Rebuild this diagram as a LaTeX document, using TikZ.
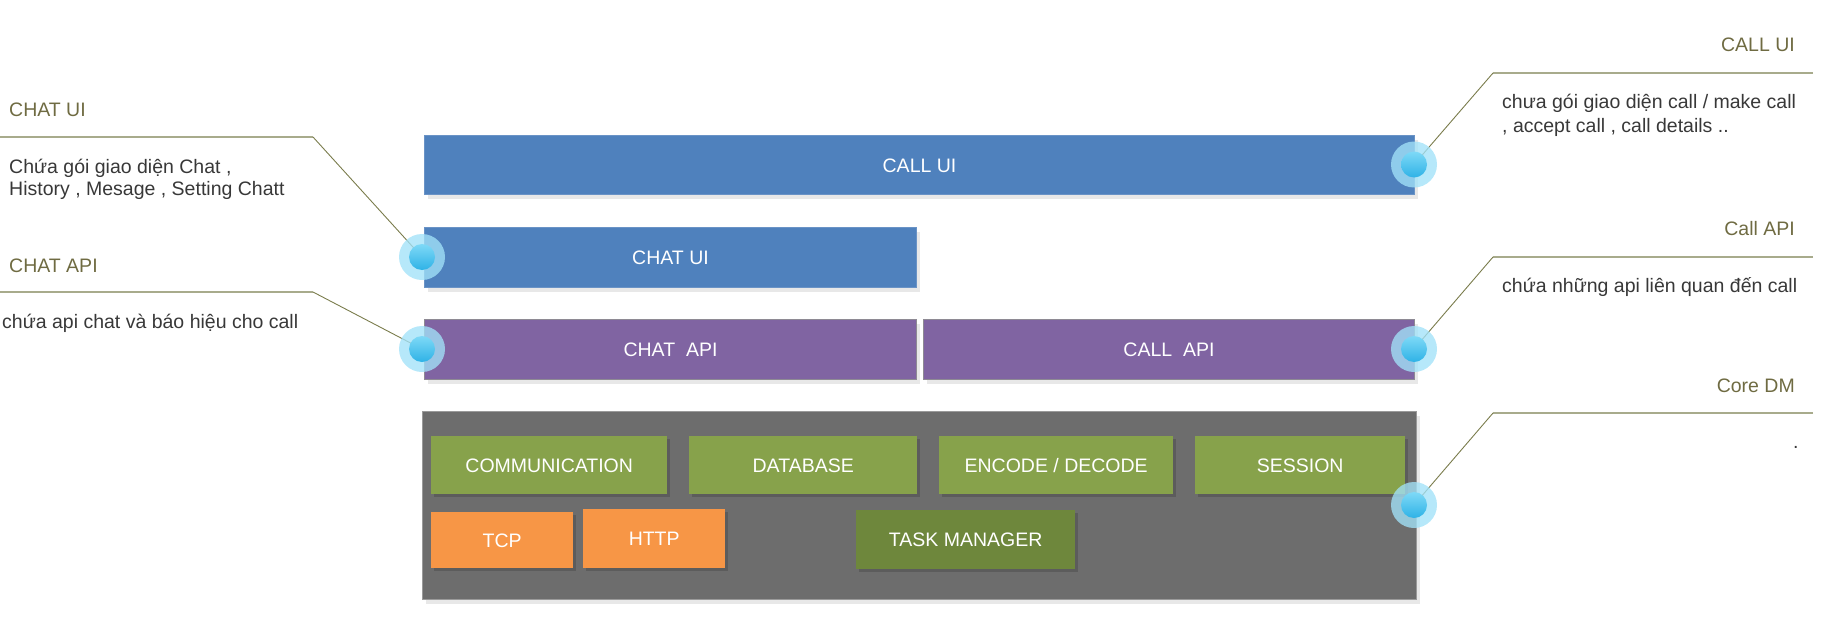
\documentclass[tikz,border=0pt]{standalone}
\usepackage{fontspec}
\setmainfont{Liberation Sans}
\usetikzlibrary{shadows}
\definecolor{barblue}{HTML}{4F81BD}
\definecolor{barblueedge}{HTML}{6A93C6}
\definecolor{barpurple}{HTML}{8064A2}
\definecolor{barpurpleedge}{HTML}{8E8A94}
\definecolor{coregray}{HTML}{6D6D6D}
\definecolor{coreedge}{HTML}{9A9A9A}
\definecolor{modgreen}{HTML}{87A24B}
\definecolor{modgreendark}{HTML}{6E873C}
\definecolor{modorange}{HTML}{F79646}
\definecolor{modshadow}{HTML}{5C5C5C}
\definecolor{titlecol}{HTML}{6F6B42}
\definecolor{bodycol}{HTML}{383838}
\definecolor{hlinecol}{HTML}{A8AB8C}
\definecolor{dlinecol}{HTML}{7A7C4C}
\definecolor{ringcol}{HTML}{A2E2F8}
\definecolor{dottop}{HTML}{7ED9F7}
\definecolor{dotbot}{HTML}{2FB2E6}
\newcommand{\labfont}{\fontsize{19.5}{23}\selectfont}
\begin{document}
\begin{tikzpicture}[x=1pt,y=-1pt,
  bar/.style={rectangle, inner sep=0pt, anchor=north west, text=white, font=\labfont,
    text height=14pt, text depth=0pt,
    drop shadow={shadow xshift=3pt, shadow yshift=-4pt, fill=black!9, opacity=1}},
  bluebar/.style={bar, fill=barblue, draw=barblueedge, line width=1pt},
  purplebar/.style={bar, fill=barpurple, draw=barpurpleedge, line width=1pt},
  corebox/.style={rectangle, inner sep=0pt, anchor=north west, fill=coregray, draw=coreedge, line width=1pt,
    drop shadow={shadow xshift=3pt, shadow yshift=-4pt, fill=black!9, opacity=1}},
  module/.style={rectangle, inner sep=0pt, anchor=north west, text=white, font=\labfont,
    text height=14pt, text depth=0pt, draw=none,
    drop shadow={shadow xshift=3pt, shadow yshift=-3pt, fill=modshadow, opacity=1}},
  greenmod/.style={module, fill=modgreen},
  darkmod/.style={module, fill=modgreendark},
  orangemod/.style={module, fill=modorange},
  title/.style={font=\labfont, text=titlecol, inner sep=0pt},
  body/.style={font=\labfont, text=bodycol, inner sep=0pt, anchor=base west},
  hline/.style={draw=hlinecol, line width=2pt},
  dline/.style={draw=dlinecol, line width=0.9pt},
  ring/.style={circle, inner sep=0pt, minimum size=46pt, fill=ringcol, fill opacity=0.78, draw=none},
]
\useasboundingbox (0,0) rectangle (1822,626);

% ---- layer bars
\node[bluebar, minimum width=990pt, minimum height=59pt] (callui) at (424,135) {CALL UI};
\node[bluebar, minimum width=492pt, minimum height=60pt] (chatui) at (424,227) {CHAT UI};
\node[purplebar, minimum width=492pt, minimum height=60pt] (chatapi) at (424,319) {CHAT\ \ API};
\node[purplebar, minimum width=491pt, minimum height=60pt] (callapi) at (923,319) {CALL\ \ API};

% ---- core
\node[corebox, minimum width=994pt, minimum height=188pt] (core) at (422,411) {};
\node[greenmod, minimum width=236pt, minimum height=58pt] (comm) at (431,436) {COMMUNICATION};
\node[greenmod, minimum width=228pt, minimum height=58pt] (db) at (689,436) {DATABASE};
\node[greenmod, minimum width=234pt, minimum height=58pt] (enc) at (939,436) {ENCODE / DECODE};
\node[greenmod, minimum width=210pt, minimum height=58pt] (sess) at (1195,436) {SESSION};
\node[orangemod, minimum width=142pt, minimum height=56pt] (tcp) at (431,512) {TCP};
\node[orangemod, minimum width=142pt, minimum height=59pt] (http) at (583,509) {HTTP};
\node[darkmod, minimum width=219pt, minimum height=59pt] (task) at (856,510) {TASK MANAGER};

% ---- callout anchors
\coordinate (pchatui) at (422,257);
\coordinate (pchatapi) at (422,349);
\coordinate (pcallui) at (1414,164.5);
\coordinate (pcallapi) at (1414,349);
\coordinate (pcore) at (1414,505);

\coordinate (s1) at (0,137);    \coordinate (e1) at (313,137);
\coordinate (s2) at (0,292);    \coordinate (e2) at (313,292);
\coordinate (s3) at (1813,73);  \coordinate (e3) at (1493,73);
\coordinate (s4) at (1813,257); \coordinate (e4) at (1493,257);
\coordinate (s5) at (1813,413); \coordinate (e5) at (1493,413);

\draw[hline] (s1) -- (e1); \draw[dline] (e1) -- (pchatui);
\draw[hline] (s2) -- (e2); \draw[dline] (e2) -- (pchatapi);
\draw[hline] (s3) -- (e3); \draw[dline] (e3) -- (pcallui);
\draw[hline] (s4) -- (e4); \draw[dline] (e4) -- (pcallapi);
\draw[hline] (s5) -- (e5); \draw[dline] (e5) -- (pcore);

% ---- callout dots
\foreach \p in {pchatui,pchatapi,pcallui,pcallapi,pcore}{
  \node[ring] (r-\p) at (\p) {};
  \shade[top color=dottop, bottom color=dotbot] (\p) circle[radius=13pt];
}

% ---- left texts
\node[title, anchor=base west] (tchatui) at (9,116) {CHAT UI};
\node[body] (bchatui1) at (9,173) {Chứa gói giao diện Chat ,};
\node[body] (bchatui2) at (9,195) {History , Mesage , Setting Chatt};
\node[title, anchor=base west] (tchatapi) at (9,272) {CHAT API};
\node[body] (bchatapi) at (2,328) {chứa api chat và báo hiệu cho call};

% ---- right texts
\node[title, anchor=base east] (tcallui) at (1795,52) {CALL UI};
\node[body] (bcallui1) at (1502,108) {chưa gói giao diện call / make call};
\node[body] (bcallui2) at (1502,132) {, accept call , call details ..};
\node[title, anchor=base east] (tcallapi) at (1795,235) {Call API};
\node[body] (bcallapi) at (1502,292) {chứa những api liên quan đến call};
\node[title, anchor=base east] (tcore) at (1795,392) {Core DM};
\node[body] (bcore) at (1793,448) {.};
\end{tikzpicture}
\end{document}
